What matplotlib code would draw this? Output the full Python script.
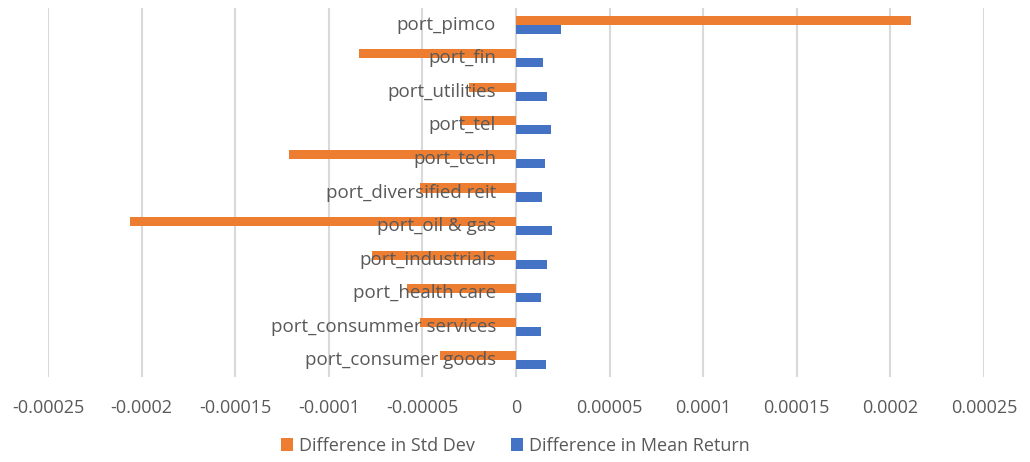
import matplotlib.pyplot as plt
import matplotlib.transforms as mtransforms
import numpy as np
from matplotlib.ticker import FixedLocator, FixedFormatter

# bottom to top, as Excel draws them
categories = [
    "port_consumer goods",
    "port_consummer services",
    "port_health care",
    "port_industrials",
    "port_oil & gas",
    "port_diversified reit",
    "port_tech",
    "port_tel",
    "port_utilities",
    "port_fin",
    "port_pimco",
]
std_dev_diff = [
    -0.0000406, -0.0000513, -0.0000583, -0.0000770, -0.0002064,
    -0.0000513, -0.0001214, -0.0000300, -0.0000251, -0.0000840, 0.0002112,
]
mean_return_diff = [
    0.0000160, 0.0000134, 0.0000134, 0.0000166, 0.0000193,
    0.0000139, 0.0000155, 0.0000187, 0.0000166, 0.0000144, 0.0000241,
]
x_ticks = [-0.00025, -0.0002, -0.00015, -0.0001, -0.00005, 0,
           0.00005, 0.0001, 0.00015, 0.0002, 0.00025]
x_tick_labels = ["-0.00025", "-0.0002", "-0.00015", "-0.0001", "-0.00005", "0",
                 "0.00005", "0.0001", "0.00015", "0.0002", "0.00025"]

plt.rcParams["font.family"] = ["Open Sans", "DejaVu Sans"]
text_color = "#595959"
grid_color = "#d9d9d9"
orange = "#ed7d31"
blue = "#4472c4"

fig = plt.figure(figsize=(10.3, 4.62), dpi=100)
ax = fig.add_axes([48 / 1030, 1 - 377 / 462, (984 - 48) / 1030, (377 - 8) / 462])

y = np.arange(len(categories))
h = 0.27
ax.barh(y + h / 2, std_dev_diff, height=h, color=orange, label="Difference in Std Dev", zorder=2)
ax.barh(y - h / 2, mean_return_diff, height=h, color=blue, label="Difference in Mean Return", zorder=2)

ax.set_xlim(-0.00025, 0.00025)
ax.set_ylim(-0.5, len(categories) - 0.5)
ax.xaxis.set_major_locator(FixedLocator(x_ticks))
ax.xaxis.set_major_formatter(FixedFormatter(x_tick_labels))
ax.grid(axis="x", color=grid_color, linewidth=1.5, zorder=0)
ax.set_axisbelow(True)
ax.set_yticks([])

for side in ["top", "right", "bottom", "left"]:
    ax.spines[side].set_visible(False)
ax.axvline(0, color=grid_color, linewidth=1.5, zorder=1)

# category labels sit next to the zero axis, on top of the bars
label_tf = mtransforms.offset_copy(ax.transData, fig=fig, x=-20, y=0, units="dots")
for yi, name in zip(y, categories):
    ax.text(0, yi, name, transform=label_tf, ha="right", va="center",
            fontsize=13.5, color=text_color, zorder=5)

ax.tick_params(axis="x", length=0, pad=16, labelsize=13, labelcolor=text_color)

fig.legend(loc="center", bbox_to_anchor=(0.5, 1 - 446 / 462), ncol=2, frameon=False,
           fontsize=13, labelcolor=text_color, handlelength=0.7, handleheight=0.7,
           handletextpad=0.3, columnspacing=2.0)

fig.savefig("out.png", dpi=100)
plt.close(fig)
